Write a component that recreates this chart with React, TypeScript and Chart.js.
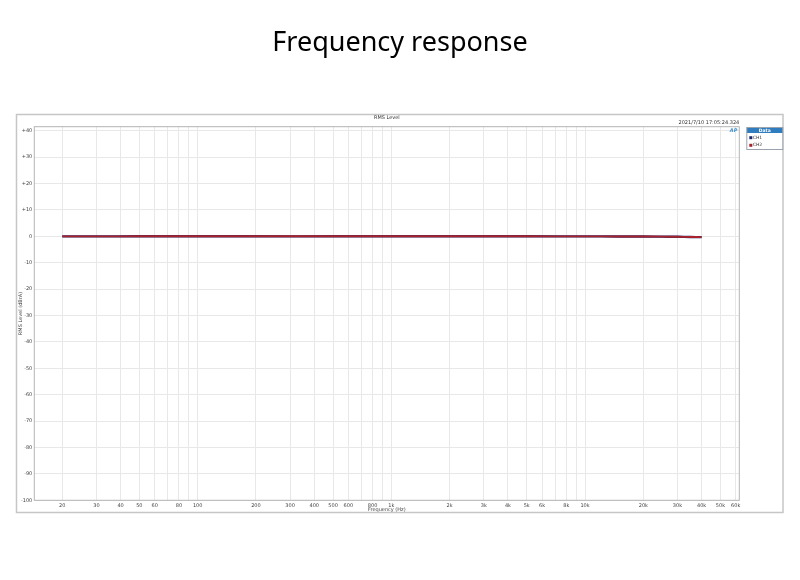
import { useEffect, useRef } from 'react'
import { Chart, ChartConfiguration, Plugin, registerables } from 'chart.js'

Chart.register(...registerables)

const TITLE = 'Frequency response'
const PANEL_TITLE = 'RMS Level'
const TIMESTAMP = '2021/7/10 17:05:24.324'
const X_TITLE = 'Frequency (Hz)'
const Y_TITLE = 'RMS Level (dBrA)'

// measured sweep points (Hz) and levels (dBrA)
const freqHz = [20, 30, 50, 100, 200, 500, 1000, 2000, 5000, 10000, 15000, 20000, 25000, 30000, 35000, 40000]
const ch1Level = [-0.05, -0.03, -0.02, -0.02, -0.02, -0.02, 0, -0.01, -0.02, -0.04, -0.07, -0.1, -0.15, -0.2, -0.27, -0.34]
const ch2Level = [-0.04, -0.03, -0.02, -0.02, -0.01, -0.01, 0, -0.01, -0.02, -0.04, -0.06, -0.09, -0.14, -0.19, -0.26, -0.33]

const xGridHz = [
  20, 30, 40, 50, 60, 70, 80, 90,
  100, 200, 300, 400, 500, 600, 700, 800, 900,
  1000, 2000, 3000, 4000, 5000, 6000, 7000, 8000, 9000,
  10000, 20000, 30000, 40000, 50000, 60000,
]
const xLabelHz = [
  20, 30, 40, 50, 60, 80, 100, 200, 300, 400, 500, 600, 800,
  1000, 2000, 3000, 4000, 5000, 6000, 8000, 10000, 20000, 30000, 40000, 50000, 60000,
]
const yTicks = [40, 30, 20, 10, 0, -10, -20, -30, -40, -50, -60, -70, -80, -90, -100]

const SMALL = '"DejaVu Sans", sans-serif'

const apFrame: Plugin = {
  id: 'apFrame',
  beforeDraw(chart) {
    const { ctx } = chart
    ctx.save()
    ctx.fillStyle = '#fff'
    ctx.fillRect(0, 0, chart.width, chart.height)
    ctx.strokeStyle = '#c6c6c6'
    ctx.lineWidth = 1.5
    ctx.strokeRect(16.5, 114.5, 766.5, 398)
    ctx.restore()
  },
  afterDraw(chart) {
    const { ctx, chartArea: a } = chart
    ctx.save()
    // plot frame
    ctx.strokeStyle = '#b4b4b4'
    ctx.lineWidth = 1
    ctx.strokeRect(a.left, a.top, a.right - a.left, a.bottom - a.top)

    ctx.fillStyle = '#333'
    ctx.font = '5px ' + SMALL
    ctx.textBaseline = 'middle'
    ctx.textAlign = 'center'
    ctx.fillText(PANEL_TITLE, (a.left + a.right) / 2, 117.5)
    ctx.textAlign = 'right'
    ctx.fillText(TIMESTAMP, a.right, 122.7)

    // AP mark
    ctx.fillStyle = '#3a8fd0'
    ctx.font = 'italic bold 5px ' + SMALL
    ctx.fillText('AP', a.right - 2, a.top + 4.5)

    // legend panel
    const lx = a.right + 7.5
    const lw = 36
    const ly = 127.5
    ctx.fillStyle = '#fff'
    ctx.fillRect(lx, ly, lw, 22)
    ctx.fillStyle = '#2f7dbf'
    ctx.fillRect(lx, ly, lw, 5.5)
    ctx.strokeStyle = '#9aa3ad'
    ctx.lineWidth = 1
    ctx.strokeRect(lx, ly, lw, 22)
    ctx.fillStyle = '#fff'
    ctx.font = 'bold 4.5px ' + SMALL
    ctx.textAlign = 'center'
    ctx.fillText('Data', lx + lw / 2, ly + 3)
    ctx.textAlign = 'left'
    ctx.font = '4.5px ' + SMALL
    chart.data.datasets.forEach((ds, i) => {
      const y = 137.7 + i * 7.6
      ctx.fillStyle = ds.borderColor as string
      ctx.fillRect(lx + 2.5, y - 1.5, 3, 3)
      ctx.fillStyle = '#333'
      ctx.fillText(ds.label || '', lx + 6, y)
    })
    ctx.restore()
  },
}

export default function App() {
  const chartRef = useRef<HTMLCanvasElement>(null)
  const chartInstance = useRef<Chart | null>(null)

  useEffect(() => {
    document.body.style.margin = '0'
    if (!chartRef.current) return
    const ctx = chartRef.current.getContext('2d')
    if (!ctx) return
    if (chartInstance.current) chartInstance.current.destroy()

    const config: ChartConfiguration<'line'> = {
      type: 'line',
      data: {
        datasets: [
          {
            label: 'CH1',
            data: freqHz.map((f, i) => ({ x: f, y: ch1Level[i] })),
            borderColor: '#1c2a70',
            borderWidth: 2.4,
            pointRadius: 0,
            tension: 0.3,
            order: 1,
          },
          {
            label: 'CH2',
            data: freqHz.map((f, i) => ({ x: f, y: ch2Level[i] })),
            borderColor: '#a8232b',
            borderWidth: 1.9,
            pointRadius: 0,
            tension: 0.3,
            order: 0,
          },
        ],
      },
      options: {
        responsive: false,
        animation: false,
        layout: { padding: { top: 0, left: 0, right: 0, bottom: 67.7 } },
        plugins: {
          legend: { display: false },
          tooltip: { enabled: false },
          title: {
            display: true,
            text: TITLE,
            color: '#000',
            font: { family: '"Noto Sans", sans-serif', size: 27, weight: 'normal', lineHeight: 1.2 },
            padding: { top: 27.6, bottom: 66.7 },
          },
        },
        scales: {
          x: {
            type: 'logarithmic',
            min: 14.34,
            max: 62600,
            afterBuildTicks: (s) => {
              s.ticks = xGridHz.map((v) => ({ value: v }))
            },
            afterFit: (s) => {
              s.height = 12
            },
            grid: { color: '#e8e8e8', drawTicks: false },
            border: { display: false },
            ticks: {
              autoSkip: false,
              maxRotation: 0,
              padding: 2,
              color: '#444',
              font: { family: SMALL, size: 5 },
              callback: (v) => {
                const n = Number(v)
                if (!xLabelHz.includes(n)) return ''
                return n >= 1000 ? n / 1000 + 'k' : String(n)
              },
            },
            title: {
              display: true,
              text: X_TITLE,
              color: '#444',
              font: { family: SMALL, size: 5, lineHeight: 1.2 },
              padding: 0,
            },
          },
          y: {
            min: -100,
            max: 41.5,
            afterBuildTicks: (s) => {
              s.ticks = yTicks.map((v) => ({ value: v }))
            },
            afterFit: (s) => {
              s.width = 34.3
            },
            grid: { color: '#e8e8e8', drawTicks: false },
            border: { display: false },
            ticks: {
              padding: 2,
              color: '#444',
              font: { family: SMALL, size: 5 },
              callback: (v) => (Number(v) > 0 ? '+' + v : String(v)),
            },
            title: {
              display: true,
              text: Y_TITLE,
              color: '#444',
              font: { family: SMALL, size: 5, lineHeight: 1.2 },
              padding: { top: 17.7, bottom: 0 },
            },
          },
          // empty right axis reserves room for the legend panel
          side: {
            position: 'right',
            afterFit: (s) => {
              s.width = 60.7
            },
            grid: { display: false },
            border: { display: false },
            ticks: { display: false },
          },
        },
      },
      plugins: [apFrame],
    }

    chartInstance.current = new Chart(ctx, config)

    return () => {
      if (chartInstance.current) {
        chartInstance.current.destroy()
        chartInstance.current = null
      }
    }
  }, [])

  return (
    <div style={{ width: 800, height: 580 }}>
      <canvas ref={chartRef} width={800} height={580}></canvas>
    </div>
  )
}
